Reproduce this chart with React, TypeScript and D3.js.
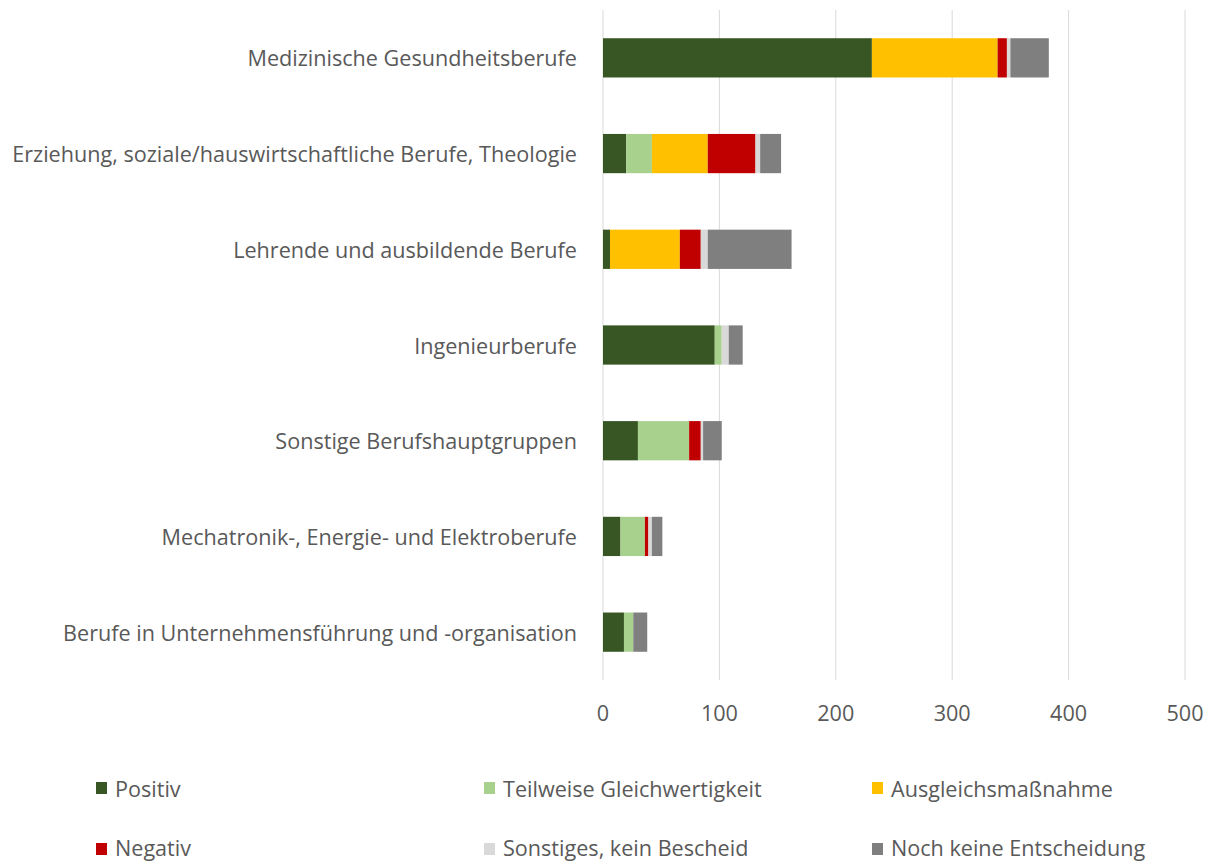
import React from 'react';
import * as d3 from 'd3';

const width = 1208, height = 864,
    margin = { top: 10, right: 23, left: 603, bottom: 184 };

// categories, top to bottom
const categories = [
    'Medizinische Gesundheitsberufe',
    'Erziehung, soziale/hauswirtschaftliche Berufe, Theologie',
    'Lehrende und ausbildende Berufe',
    'Ingenieurberufe',
    'Sonstige Berufshauptgruppen',
    'Mechatronik-, Energie- und Elektroberufe',
    'Berufe in Unternehmensführung und -organisation'
];

const seriesNames = [
    'Positiv',
    'Teilweise Gleichwertigkeit',
    'Ausgleichsmaßnahme',
    'Negativ',
    'Sonstiges, kein Bescheid',
    'Noch keine Entscheidung'
];

const seriesColors = ['#375623', '#a9d18e', '#ffc000', '#c00000', '#d9d9d9', '#7f7f7f'];

// values per series, in category order
const positiv = [231, 20, 6, 96, 30, 15, 18];
const teilweise = [0, 22, 0, 6, 44, 21, 8];
const ausgleich = [108, 48, 60, 0, 0, 0, 0];
const negativ = [8, 41, 18, 0, 10, 3, 0];
const sonstiges = [3, 4, 6, 6, 2, 3, 0];
const nochKeine = [33, 18, 72, 12, 16, 9, 12];

const xTicks = [0, 100, 200, 300, 400, 500];

const font = "'Open Sans', 'Liberation Sans', Arial, sans-serif";
const textColor = '#595959';
const fontSize = 21.6;

export default function App() {
    const series = [positiv, teilweise, ausgleich, negativ, sonstiges, nochKeine];

    // rows for the stack layout
    const rows = categories.map((c, i) => {
        const row: any = { category: c };
        seriesNames.forEach((s, j) => { row[s] = series[j][i]; });
        return row;
    });
    const stacked = d3.stack().keys(seriesNames)(rows);

    const xScale = d3.scaleLinear()
        .domain([0, 500])
        .range([margin.left, width - margin.right]);

    const yScale = d3.scaleBand()
        .domain(categories)
        .range([margin.top, height - margin.bottom])
        .paddingInner(0.59)
        .paddingOuter(0.295);

    const bottom = height - margin.bottom;
    const legendCols = [96, 484, 872];
    // marker centre and text centre per legend row (last row sits at the bottom edge)
    const legendRows = [788, 849];
    const legendText = [788, 847];

    return (
        <svg width={width} height={height} style={{ position: 'absolute', left: 0, top: 0 }}
            fontFamily={font}>
            <rect width={width} height={height} fill="#fff" />
            {/* gridlines */}
            {xTicks.map(t => (
                <line key={t} x1={xScale(t)} x2={xScale(t)} y1={margin.top} y2={bottom}
                    stroke="#d9d9d9" strokeWidth={1} />
            ))}
            {/* bars */}
            {stacked.map((layer, j) => (
                <g key={layer.key} fill={seriesColors[j]}>
                    {layer.map((d, i) => d[1] - d[0] > 0 ? (
                        <rect key={i}
                            x={xScale(d[0])}
                            y={yScale(categories[i])}
                            width={xScale(d[1]) - xScale(d[0])}
                            height={yScale.bandwidth()} />
                    ) : null)}
                </g>
            ))}
            {/* category labels */}
            {categories.map(c => (
                <text key={c} x={577} y={(yScale(c) as number) + yScale.bandwidth() / 2}
                    textAnchor="end" dominantBaseline="central" fontSize={fontSize} fill={textColor}>
                    {c}
                </text>
            ))}
            {/* x tick labels */}
            {xTicks.map(t => (
                <text key={t} x={xScale(t)} y={712} textAnchor="middle" dominantBaseline="central"
                    fontSize={fontSize} fill={textColor}>{t}</text>
            ))}
            {/* legend */}
            {seriesNames.map((s, j) => {
                const r = Math.floor(j / 3);
                const lx = legendCols[j % 3], ly = legendRows[r];
                return (
                    <g key={s}>
                        <rect x={lx} y={ly - 6} width={11} height={12} fill={seriesColors[j]} />
                        <text x={lx + 19} y={legendText[r]} dominantBaseline="central" fontSize={fontSize}
                            fill={textColor}>{s}</text>
                    </g>
                );
            })}
        </svg>
    );
}
